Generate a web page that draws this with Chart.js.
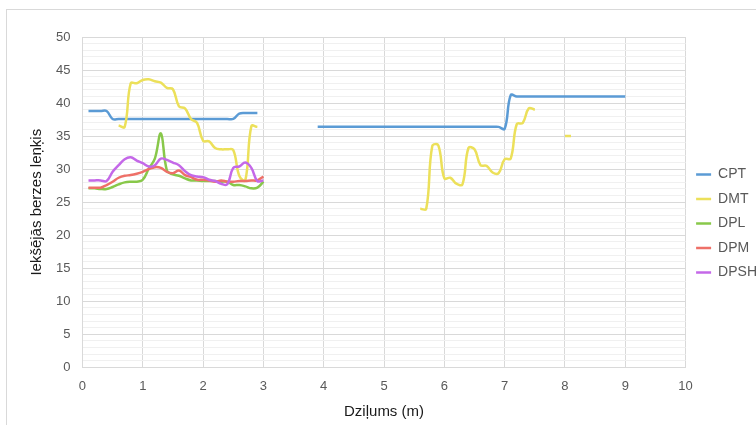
<!DOCTYPE html>
<html>
<head>
<meta charset="utf-8">
<script src="https://cdn.jsdelivr.net/npm/chart.js@4.4.1/dist/chart.umd.min.js"></script>
<style>
  html, body { margin: 0; padding: 0; background: #fff; overflow: hidden; width: 756px; height: 425px; }
  .frame { position: absolute; left: 6px; top: 9px; width: 800px; height: 500px; border: 1px solid #d9d9d9; }
  #chart { position: absolute; left: 0; top: 0; }
</style>
</head>
<body>
<div class="frame"></div>
<canvas id="chart" width="780" height="425"></canvas>
<script>
// ===== Data =====
const seriesNames = ['CPT', 'DMT', 'DPL', 'DPM', 'DPSH'];
const seriesColors = ['#5b9bd5', '#ece05a', '#88c84a', '#ee7068', '#c468e8'];

// CPT (null = gap in the line)
const cptDepth = [0.1, 0.2, 0.3, 0.4, 0.5, 0.6, 1.0, 1.5, 2.0, 2.4, 2.5, 2.6, 2.7, 2.9,
                  3.4,
                  3.9, 4.5, 5.5, 6.5, 6.8, 6.9, 7.0, 7.1, 7.2, 7.3, 8.0, 9.0];
const cptValues = [38.8, 38.8, 38.8, 38.8, 37.6, 37.6, 37.6, 37.6, 37.6, 37.6, 37.6, 38.4, 38.5, 38.5,
                   null,
                   36.4, 36.4, 36.4, 36.4, 36.4, 36.4, 36.1, 41.2, 41.0, 41.0, 41.0, 41.0];

// DMT
const dmtDepth = [0.6, 0.7, 0.8, 0.9, 1.0, 1.1, 1.2, 1.3, 1.4, 1.5, 1.6, 1.7, 1.8, 1.9, 2.0, 2.1,
                  2.2, 2.3, 2.4, 2.5, 2.6, 2.7, 2.8, 2.9,
                  4.0,
                  5.6, 5.7, 5.8, 5.9, 6.0, 6.1, 6.2, 6.3, 6.4, 6.5, 6.6, 6.7, 6.8, 6.9, 7.0, 7.1,
                  7.2, 7.3, 7.4, 7.5,
                  7.8,
                  8.0, 8.1];
const dmtValues = [36.6, 36.4, 43.0, 43.0, 43.5, 43.6, 43.3, 43.1, 42.3, 42.1, 39.5, 39.2, 37.6, 37.0, 34.3, 34.2,
                   33.2, 33.0, 33.0, 32.9, 29.0, 28.3, 36.5, 36.4,
                   null,
                   24.0, 24.0, 33.5, 33.6, 28.6, 28.7, 27.8, 27.7, 33.2, 33.0, 30.6, 30.5, 29.5, 29.4, 31.5, 31.6,
                   36.8, 37.0, 39.2, 39.0,
                   null,
                   35.0, 35.0];

// DPL, DPM, DPSH share the same depths
const shallowDepth = [0.1, 0.2, 0.3, 0.4, 0.5, 0.6, 0.7, 0.8, 0.9, 1.0, 1.1, 1.2, 1.3, 1.4, 1.5,
                      1.6, 1.7, 1.8, 1.9, 2.0, 2.1, 2.2, 2.3, 2.4, 2.5, 2.6, 2.7, 2.8, 2.9, 3.0];
const dplValues = [27.1, 27.1, 27.0, 27.0, 27.3, 27.7, 28.0, 28.1, 28.1, 28.4, 30.1, 31.6, 35.4, 29.8, 29.2,
                   29.0, 28.6, 28.3, 28.3, 28.2, 28.2, 28.2, 28.1, 28.1, 27.6, 27.6, 27.4, 27.1, 27.2, 28.1];
const dpmValues = [27.2, 27.2, 27.2, 27.6, 28.1, 28.7, 29.0, 29.1, 29.3, 29.6, 30.0, 30.3, 30.2, 29.6, 29.4,
                   29.8, 29.1, 28.8, 28.4, 28.4, 28.3, 28.1, 28.3, 28.1, 28.1, 28.2, 28.2, 28.3, 28.3, 28.9];
const dpshValues = [28.3, 28.3, 28.3, 28.2, 29.6, 30.6, 31.5, 31.8, 31.3, 30.9, 30.4, 30.6, 31.6, 31.4, 31.0,
                    30.6, 29.7, 29.1, 28.9, 28.8, 28.4, 28.2, 27.8, 27.7, 30.2, 30.4, 31.0, 30.2, 28.2, 28.3];

const xTicks = [0, 1, 2, 3, 4, 5, 6, 7, 8, 9, 10];
const yLabelStep = 5;

// ===== Helpers =====
function toPoints(xs, ys) {
  return xs.map((x, i) => ({ x: x, y: ys[i] }));
}

const seriesPoints = [
  toPoints(cptDepth, cptValues),
  toPoints(dmtDepth, dmtValues),
  toPoints(shallowDepth, dplValues),
  toPoints(shallowDepth, dpmValues),
  toPoints(shallowDepth, dpshValues)
];

const FONT = "'Liberation Sans', Arial, sans-serif";

// ===== Chart =====
const datasets = seriesNames.map((name, i) => ({
  label: name,
  data: seriesPoints[i],
  borderColor: seriesColors[i],
  backgroundColor: seriesColors[i],
  borderWidth: 2.5,
  pointRadius: 0,
  tension: 0.4,
  spanGaps: false,
  order: seriesNames.length - i
}));

new Chart(document.getElementById('chart'), {
  type: 'line',
  data: { datasets: datasets },
  options: {
    responsive: false,
    animation: false,
    layout: { padding: { left: 22, right: 13, top: 37, bottom: 15 } },
    plugins: {
      tooltip: { enabled: false },
      legend: {
        position: 'right',
        labels: {
          usePointStyle: true,
          pointStyle: 'line',
          pointStyleWidth: 15,
          padding: 10.5,
          color: '#595959',
          font: { family: FONT, size: 14 },
          sort: (a, b) => a.datasetIndex - b.datasetIndex
        }
      }
    },
    scales: {
      x: {
        type: 'linear',
        min: 0,
        max: 10,
        afterBuildTicks: (axis) => { axis.ticks = xTicks.map(v => ({ value: v })); },
        ticks: { color: '#595959', font: { family: FONT, size: 13 }, padding: 11 },
        grid: { color: '#d9d9d9', drawTicks: false },
        border: { color: '#d9d9d9' },
        title: {
          display: true,
          text: 'Dziļums (m)',
          color: '#1a1a1a',
          font: { family: FONT, size: 15 },
          padding: { top: -2, bottom: -11 }
        }
      },
      y: {
        type: 'linear',
        min: 0,
        max: 50,
        ticks: {
          stepSize: 1,
          autoSkip: false,
          color: '#595959',
          font: { family: FONT, size: 13 },
          padding: 12,
          callback: (value) => (value % yLabelStep === 0 ? value : '')
        },
        grid: {
          drawTicks: false,
          color: (ctx) => (ctx.tick && ctx.tick.value % yLabelStep === 0 ? '#d9d9d9' : '#f0f0f0')
        },
        border: { color: '#d9d9d9' },
        title: {
          display: true,
          text: 'Iekšējās berzes leņķis',
          color: '#1a1a1a',
          font: { family: FONT, size: 15 },
          padding: { top: 6, bottom: -2 }
        }
      }
    }
  }
});
</script>
</body>
</html>
